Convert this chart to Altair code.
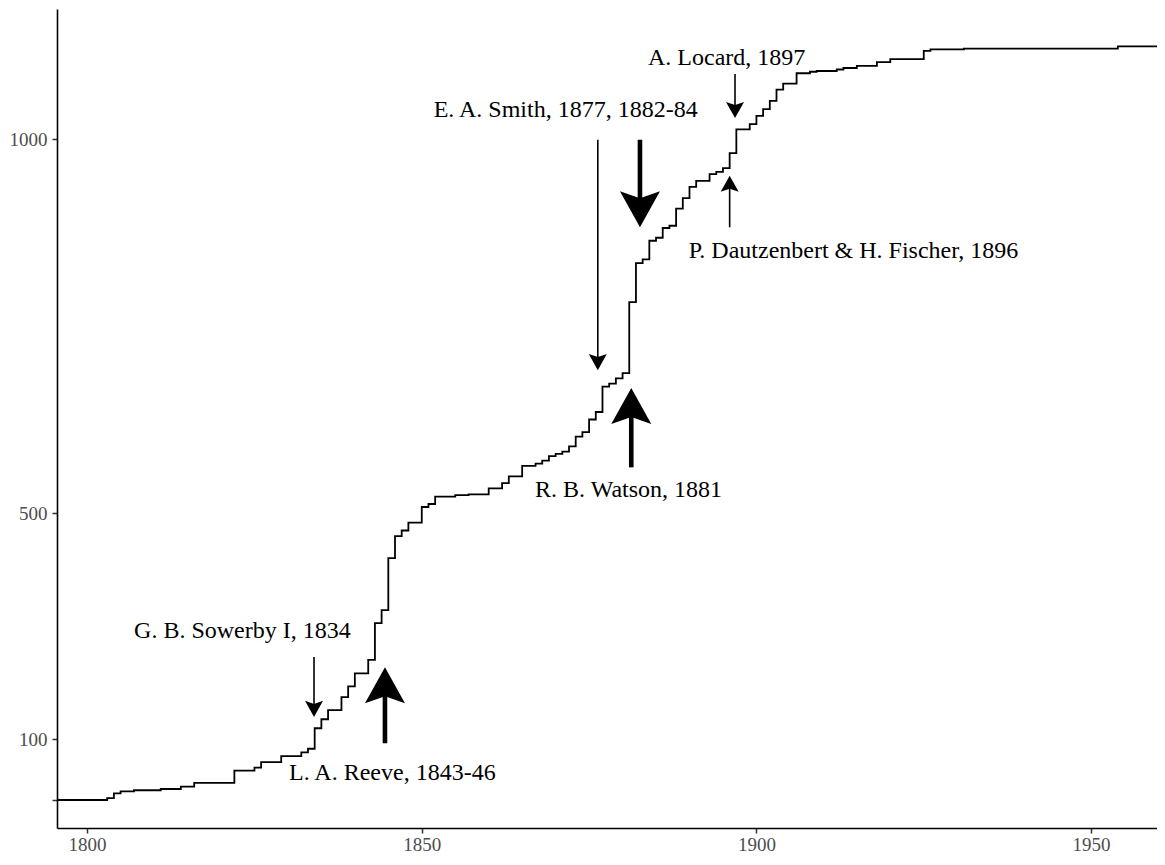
import altair as alt
import pandas as pd

# cumulative count step series
years = [1795, 1803, 1804, 1805, 1807, 1811, 1814, 1816, 1822, 1825, 1826, 1829, 1832, 1833,
         1834, 1835, 1836, 1838, 1839, 1840, 1842, 1843, 1844, 1845, 1846, 1847, 1848, 1850,
         1851, 1852, 1855, 1857, 1860, 1862, 1863, 1865, 1867, 1868, 1869, 1870, 1871, 1872,
         1873, 1874, 1875, 1876, 1877, 1878, 1879, 1880, 1881, 1882, 1883, 1884, 1885, 1886,
         1887, 1888, 1889, 1890, 1891, 1893, 1894, 1895, 1896, 1897, 1899, 1900, 1901, 1902,
         1903, 1904, 1906, 1908, 1909, 1912, 1913, 1915, 1918, 1920, 1925, 1926, 1931, 1954, 1960]
counts = [0, 3, 11, 14, 16, 18, 22, 28, 48, 53, 62, 72, 78, 84,
          119, 135, 151, 174, 193, 216, 240, 305, 328, 420, 459, 469, 483, 508,
          512, 522, 524, 525, 533, 540, 549, 563, 566, 570, 576, 579, 582, 589,
          602, 608, 625, 635, 669, 673, 680, 687, 782, 834, 839, 864, 868, 881,
          884, 907, 921, 936, 944, 953, 956, 961, 981, 1013, 1020, 1031, 1040, 1051,
          1066, 1074, 1088, 1090, 1091, 1093, 1095, 1098, 1103, 1107, 1118, 1120, 1121, 1124, 1124]

# annotation labels
label_text = ["A. Locard, 1897", "E. A. Smith, 1877, 1882-84",
              "P. Dautzenbert & H. Fischer, 1896", "R. B. Watson, 1881",
              "G. B. Sowerby I, 1834", "L. A. Reeve, 1843-46"]
label_year = [1895.55, 1871.5, 1914.5, 1880.9, 1823.2, 1845.6]
label_count = [1099, 1029, 841, 521, 279, 33]

# arrows
arrow_year = [1833.9, 1844.5, 1876.3, 1882.6, 1881.3, 1896.8, 1896.0]
arrow_tail = [245, 93, 999, 999, 561, 1087, 882]
arrow_shaft_end = [160, 178, 707, 920, 630, 1044, 934]
arrow_tip = [139, 227, 691, 882, 667, 1028, 951]
arrow_dir = ["down", "up", "down", "down", "up", "down", "up"]
arrow_weight = ["thin", "thick", "thin", "thick", "thick", "thin", "thin"]

x_ticks = [1800, 1850, 1900, 1950]
y_ticks = [0, 100, 500, 1000]

FONT = "Liberation Serif"

df = pd.DataFrame({"year": years, "count": counts})
ldf = pd.DataFrame({"year": label_year, "count": label_count, "label": label_text})

head_paths = {"down": "M0,0L-1,-1.8L0,-1.45L1,-1.8Z", "up": "M0,0L-1,1.8L0,1.45L1,1.8Z"}
head_size = {"thin": 324, "thick": 1600}
shaft_w = {"thin": 1.6, "thick": 4.6}
adf = pd.DataFrame({
    "year": arrow_year, "tail": arrow_tail, "shaft_end": arrow_shaft_end, "tip": arrow_tip,
    "path": [head_paths[d] for d in arrow_dir],
    "sz": [head_size[w] for w in arrow_weight],
    "sw": [shaft_w[w] for w in arrow_weight],
})

W, H = 1100, 819
xscale = alt.Scale(domain=[1795.5, 1959.85], nice=False, zero=False)
yscale = alt.Scale(domain=[-46, 0, 100, 500, 1000, 1174],
                   range=[H, 791, 730, 504, 130, 0], nice=False, zero=False)

axis_common = dict(title=None, grid=False, domainColor="black", domainWidth=1.6,
                   tickColor="#333333", tickWidth=1.5, tickSize=5, labelColor="#4D4D4D",
                   labelFont=FONT, labelFontSize=19, format="d")

line = alt.Chart(df).mark_line(interpolate="step-after", color="black",
                               strokeWidth=1.8, clip=True).encode(
    x=alt.X("year:Q", scale=xscale,
            axis=alt.Axis(values=x_ticks, labelPadding=2, **axis_common)),
    y=alt.Y("count:Q", scale=yscale,
            axis=alt.Axis(values=y_ticks, labelPadding=5,
                          labelExpr="datum.value == 0 ? '' : datum.label",
                          **axis_common)),
)

rules = alt.Chart(adf).mark_rule(color="black", strokeCap="butt").encode(
    x=alt.X("year:Q", title=None),
    y=alt.Y("tail:Q", title=None),
    y2="shaft_end:Q",
    strokeWidth=alt.StrokeWidth("sw:Q", scale=None),
)

heads = alt.Chart(adf).mark_point(filled=True, color="black", opacity=1, strokeWidth=0).encode(
    x=alt.X("year:Q", title=None),
    y=alt.Y("tip:Q", title=None),
    shape=alt.Shape("path:N", scale=None),
    size=alt.Size("sz:Q", scale=None),
)

texts = alt.Chart(ldf).mark_text(font=FONT, fontSize=24, color="black",
                                 align="center", baseline="alphabetic").encode(
    x=alt.X("year:Q", title=None),
    y=alt.Y("count:Q", title=None),
    text="label:N",
)

chart = alt.layer(line, rules, heads, texts).properties(
    width=W, height=H,
    autosize=alt.AutoSizeParams(type="none"),
    padding={"left": 49, "top": 1, "right": 0, "bottom": 27},
    background="white",
).configure_view(stroke=None)

chart.save("out.html", embed_options={"renderer": "svg", "actions": False})
